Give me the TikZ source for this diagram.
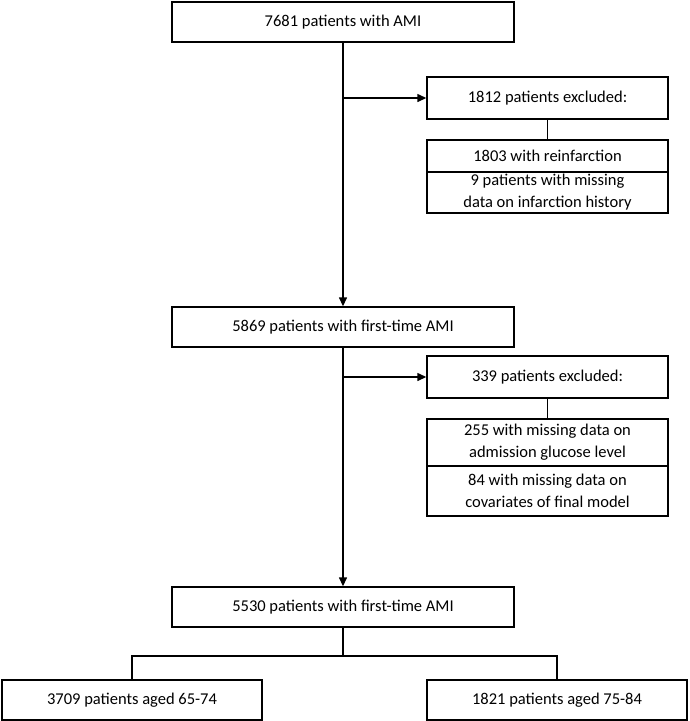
\documentclass[tikz,border=0pt]{standalone}
\usepackage{fontspec}
\setmainfont{Carlito}
\usetikzlibrary{arrows.meta}
\tikzset{
  box/.style={draw, line width=1.4pt, minimum width=342pt, minimum height=40pt,
    inner sep=2pt, align=center, font=\fontsize{16.5}{22}\selectfont},
  sidebox/.style={box, minimum width=241pt},
  agebox/.style={box, minimum width=260pt},
  link/.style={line width=1.4pt},
  flow/.style={link, -{Triangle[length=9pt,width=8pt]}}
}
\begin{document}
\begin{tikzpicture}[x=1pt,y=-1pt]
\useasboundingbox (0,0) rectangle (689,721);
% main column
\node[box] (ami) at (343,22) {7681 patients with AMI};
\node[box] (first) at (343,327) {5869 patients with first-time AMI};
\node[box] (final) at (343,607) {5530 patients with first-time AMI};
% first exclusion
\node[sidebox, minimum height=42pt] (excl1) at (547.5,98) {1812 patients excluded:};
\node[sidebox, minimum height=32pt] (reinf) at (547.5,156) {1803 with reinfarction};
\node[sidebox, minimum height=41pt] (hist) at (547.5,192.5) {9 patients with missing\\data on infarction history};
% second exclusion
\node[sidebox, minimum height=42pt] (excl2) at (547.5,377) {339 patients excluded:};
\node[sidebox, minimum height=47pt] (gluc) at (547.5,442.5) {255 with missing data on\\admission glucose level};
\node[sidebox, minimum height=50pt] (cov) at (547.5,491) {84 with missing data on\\covariates of final model};
% age groups
\node[agebox] (young) at (132,700) {3709 patients aged 65-74};
\node[agebox] (old) at (557,700) {1821 patients aged 75-84};
\coordinate (split) at (343,656);

\draw[flow] (ami.south) -- (first.north);
\draw[flow] (ami.south |- excl1.west) -- (excl1.west);
\draw[link] (excl1.south) -- (reinf.north);
\draw[flow] (first.south) -- (final.north);
\draw[flow] (first.south |- excl2.west) -- (excl2.west);
\draw[link] (excl2.south) -- (gluc.north);
\draw[link] (final.south) -- (split);
\draw[link] (young.north) -- (young.north |- split) -- (old.north |- split) -- (old.north);
\end{tikzpicture}
\end{document}
